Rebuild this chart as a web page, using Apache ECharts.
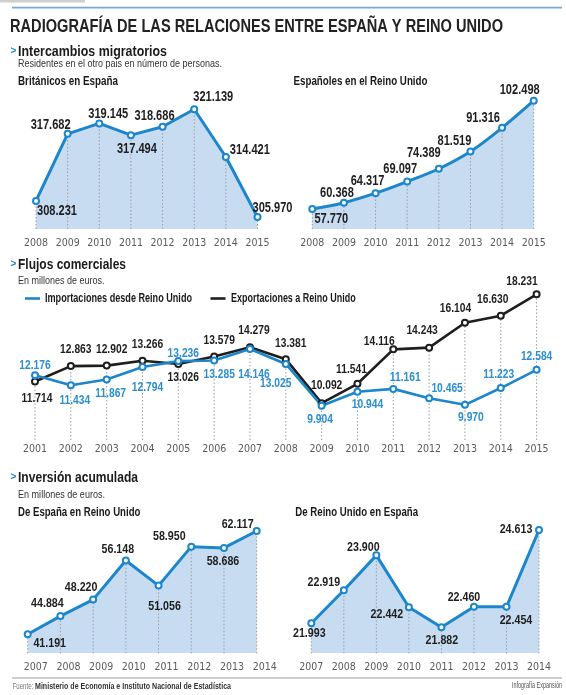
<!DOCTYPE html>
<html>
<head>
<meta charset="utf-8">
<script src="https://cdn.jsdelivr.net/npm/echarts@6/dist/echarts.min.js"></script>
<style>
html,body{margin:0;padding:0;background:#fff;}
#c{width:566px;height:695px;}
</style>
</head>
<body>
<div id="c"></div>
<script>
// ---------- DATA ----------
const migYears = ['2008','2009','2010','2011','2012','2013','2014','2015'];
const britonsInSpain = [308231, 317682, 319145, 317494, 318686, 321139, 314421, 305970];
const spaniardsInUK = [57770, 60368, 64317, 69097, 74389, 81519, 91316, 102498];

const tradeYears = ['2001','2002','2003','2004','2005','2006','2007','2008','2009','2010','2011','2012','2013','2014','2015'];
const importsFromUK = [12176, 11434, 11867, 12794, 13236, 13285, 14146, 13025, 9904, 10944, 11161, 10465, 9970, 11223, 12584];
const exportsToUK = [11714, 12863, 12902, 13266, 13026, 13579, 14279, 13381, 10092, 11541, 14116, 14243, 16104, 16630, 18231];

const invYears = ['2007','2008','2009','2010','2011','2012','2013','2014'];
const spainInUK = [41191, 44884, 48220, 56148, 51056, 58950, 58686, 62117];
const ukInSpain = [21993, 22919, 23900, 22442, 21882, 22460, 22454, 24613];

// ---------- LABEL PLACEMENT (style only: label centre minus point, px) ----------
const offBritons = [[21,10],[-17,-9],[9,-9],[6,14],[-8,-11],[19,-12],[24,-7],[15,-9]];
const offSpaniards = [[19,10],[-7,-10],[-8,-12],[-7,-12],[-15,-16],[-16,-10],[-19,-10],[-14,-11]];
const offImports = [[0,-10],[4,15],[4,14],[5,20],[5,-8],[5,13.5],[4,25],[-10,19],[-1.5,14],[10,13],[12,-11],[18,-10],[6,13],[-2,-14],[0,-13]];
const offExports = [[2,17],[5,-17],[5,-16],[5,-16],[5,13],[5,-16.5],[4,-16.5],[5,-16],[5,-18],[-6,-14],[-14,-8],[-7,-17],[-9.5,-14],[-8,-16],[-14.6,-13]];
const offSpainInUK = [[22,9],[-13,-12.6],[-12,-12.6],[-8,-11],[6,21],[-22,-10],[-1,13],[-19,-7]];
const offUkInSpain = [[-2,10],[-20,-8],[-13,-8],[-22,7.4],[0.5,13],[-10,-9.5],[9.5,13],[-23,-1]];

// ---------- STYLE ----------
const SANS = '"Liberation Sans", Arial, sans-serif';
const COND = '"DejaVu Sans Condensed", "Liberation Sans", sans-serif';
const BLUE = '#1c86cd';
const BLUE_LABEL = '#2a8ed0';
const DARK = '#1e1e1e';
const AREA = '#c7dcf1';
const NARROW_SX = 0.79;   // horizontal squeeze to imitate a condensed face
const LABEL_SIZES = [14, 14, 13, 13.5, 13.5];

const fmt = n => String(n).replace(/\B(?=(\d{3})+(?!\d))/g, '.');

const mctx = document.createElement('canvas').getContext('2d');
function fitScale(text, size, weight, target) {
  mctx.font = weight + ' ' + size + 'px ' + SANS;
  return target / mctx.measureText(text).width;
}

const grids = [
  {left:36, width:221.5, top:100, height:129},
  {left:312.3, width:221.4, top:100, height:129},
  {left:35, width:501.6, top:290, height:150},
  {left:27.7, width:229, top:525, height:128.3},
  {left:311.3, width:227.7, top:525, height:128.3}
];
const yRanges = [
  [304285, 322445],
  [49509, 102787],
  [7340, 18552],
  [37342, 63333],
  [21150, 24753]
];
const xCats = [migYears, migYears, tradeYears, invYears, invYears];
const labelMargins = [9, 9, 4, 8, 8];
const labelPads = [[0,0,0,0],[0,0,0,0],[0,0,0,0],[0,0,0,16],[0,0,0,0]];

const xAxes = xCats.map((cats, i) => ({
  type:'category', gridIndex:i, data:cats, boundaryGap:false,
  axisLine:{show:false}, axisTick:{show:false}, splitLine:{show:false},
  axisLabel:{interval:0, color:'#5a5a5a', fontSize:10.5, fontFamily:COND, margin:labelMargins[i], padding:labelPads[i]}
}));
const yAxes = yRanges.map((r, i) => ({
  type:'value', gridIndex:i, min:r[0], max:r[1], show:false, splitLine:{show:false}
}));

function dotSeries(gi, tops) {
  const yMin = yRanges[gi][0];
  return {
    type:'custom', xAxisIndex:gi, yAxisIndex:gi, z:2, silent:true,
    data: tops.map((v, i) => [i, v]),
    renderItem(params, api) {
      const a = api.coord([api.value(0), yMin]);
      const b = api.coord([api.value(0), api.value(1)]);
      return {type:'line', shape:{x1:a[0], y1:a[1], x2:b[0], y2:b[1]},
        style:{stroke:'#9c9c9c', lineWidth:1, lineDash:[1.5,2]}};
    }
  };
}

function lineSeries(gi, name, values, color, width, smooth) {
  return {
    type:'line', name:name, xAxisIndex:gi, yAxisIndex:gi, z:3, smooth:smooth ? 0.35 : false,
    symbol:'emptyCircle', symbolSize:6,
    lineStyle:{color:color, width:width},
    itemStyle:{color:color, borderColor:color, borderWidth:1.4},
    label:{show:false},
    emphasis:{disabled:true},
    data: values
  };
}

function labelSeries(gi, values, offs, color) {
  const size = LABEL_SIZES[gi];
  return {
    type:'custom', xAxisIndex:gi, yAxisIndex:gi, z:5, silent:true, clip:false,
    data: values.map((v, i) => [i, v]),
    renderItem(params, api) {
      const p = api.coord([api.value(0), api.value(1)]);
      const o = offs[params.dataIndex];
      return {type:'text', x:p[0] + o[0], y:p[1] + o[1], scaleX:NARROW_SX,
        style:{text:fmt(api.value(1)), fill:color, fontSize:size, fontWeight:'bold',
          fontFamily:SANS, align:'center', verticalAlign:'middle'}};
    }
  };
}

function areaSeries(gi, values, smooth) {
  return {
    type:'line', xAxisIndex:gi, yAxisIndex:gi, z:1, smooth:smooth ? 0.35 : false,
    symbol:'none', silent:true, lineStyle:{width:0},
    areaStyle:{color:AREA, opacity:1, origin:'start'},
    data: values
  };
}

const series = [
  areaSeries(0, britonsInSpain, false),
  dotSeries(0, britonsInSpain),
  lineSeries(0, 'Británicos en España', britonsInSpain, BLUE, 3, false),
  labelSeries(0, britonsInSpain, offBritons, DARK),

  areaSeries(1, spaniardsInUK, true),
  dotSeries(1, spaniardsInUK),
  lineSeries(1, 'Españoles en el Reino Unido', spaniardsInUK, BLUE, 3, true),
  labelSeries(1, spaniardsInUK, offSpaniards, DARK),

  dotSeries(2, importsFromUK.map((v, i) => Math.max(v, exportsToUK[i]))),
  lineSeries(2, 'Exportaciones a Reino Unido', exportsToUK, DARK, 2.6, false),
  lineSeries(2, 'Importaciones desde Reino Unido', importsFromUK, BLUE, 2.6, false),
  labelSeries(2, exportsToUK, offExports, DARK),
  labelSeries(2, importsFromUK, offImports, BLUE_LABEL),

  areaSeries(3, spainInUK, false),
  dotSeries(3, spainInUK),
  lineSeries(3, 'De España en Reino Unido', spainInUK, BLUE, 3, false),
  labelSeries(3, spainInUK, offSpainInUK, DARK),

  areaSeries(4, ukInSpain, false),
  dotSeries(4, ukInSpain),
  lineSeries(4, 'De Reino Unido en España', ukInSpain, BLUE, 3, false),
  labelSeries(4, ukInSpain, offUkInSpain, DARK)
];

// squeezed text fitted to a measured width
function txt(text, x, y, size, weight, color, width, align) {
  const sx = fitScale(text, size, weight, width);
  return {type:'text', silent:true, x:x, y:y, scaleX:sx,
    style:{text:text, x:0, y:0, fontSize:size, fontWeight:weight, fontFamily:SANS,
      fill:color, align:align || 'left', verticalAlign:'middle'}};
}
function chevron(x, y) {
  return {type:'text', silent:true, x:x, y:y,
    style:{text:'>', x:0, y:0, fontSize:10, fontWeight:'bold', fontFamily:SANS, fill:BLUE, align:'left', verticalAlign:'middle'}};
}

const graphic = [
  {type:'rect', silent:true, shape:{x:0, y:0, width:85, height:2.5}, style:{fill:'#cfcfcf'}},
  {type:'rect', silent:true, shape:{x:12, y:6.8, width:550, height:1.6}, style:{fill:'#7ba5d6'}},
  txt('RADIOGRAFÍA DE LAS RELACIONES ENTRE ESPAÑA Y REINO UNIDO', 10, 27, 18.5, 'bold', '#222', 493),

  chevron(10.5, 51),
  txt('Intercambios migratorios', 18, 52, 15, 'bold', '#1a1a1a', 149),
  txt('Residentes en el otro pais en número de personas.', 18, 63.5, 11, 'normal', '#333', 204),
  txt('Británicos en España', 18, 82, 12.5, 'bold', '#1a1a1a', 100),
  txt('Españoles en el Reino Unido', 293.5, 82, 12.5, 'bold', '#1a1a1a', 134),

  chevron(10.5, 264),
  txt('Flujos comerciales', 18, 265, 15, 'bold', '#1a1a1a', 108),
  txt('En millones de euros.', 18, 281, 11, 'normal', '#333', 86.5),

  {type:'rect', silent:true, shape:{x:25, y:297.2, width:15, height:2.6}, style:{fill:BLUE}},
  txt('Importaciones desde Reino Unido', 45, 299, 12.5, 'bold', '#1a1a1a', 147),
  {type:'rect', silent:true, shape:{x:210.5, y:297.2, width:15, height:2.6}, style:{fill:DARK}},
  txt('Exportaciones a Reino Unido', 231, 299, 12.5, 'bold', '#1a1a1a', 124.7),

  chevron(10.5, 477),
  txt('Inversión acumulada', 18, 478, 15, 'bold', '#1a1a1a', 120),
  txt('En millones de euros.', 18, 495, 11, 'normal', '#333', 87),
  txt('De España en Reino Unido', 18, 513, 12.5, 'bold', '#1a1a1a', 122.4),
  txt('De Reino Unido en España', 295.3, 513, 12.5, 'bold', '#1a1a1a', 122.7),

  {type:'rect', silent:true, shape:{x:12, y:677.5, width:550, height:1}, style:{fill:'#9a9a9a'}},
  txt('Fuente:', 12.6, 686, 9.5, 'normal', '#777', 20.6),
  txt('Ministerio de Economía e Instituto Nacional de Estadística', 35, 686, 9.5, 'bold', '#333', 196),
  txt('Infografía Expansión', 562, 686, 9, 'normal', '#555', 50, 'right')
];

const chart = echarts.init(document.getElementById('c'), null, {renderer:'canvas'});
chart.setOption({
  animation:false,
  backgroundColor:'#fff',
  grid:grids,
  xAxis:xAxes,
  yAxis:yAxes,
  series:series,
  graphic:graphic
});
</script>
</body>
</html>
